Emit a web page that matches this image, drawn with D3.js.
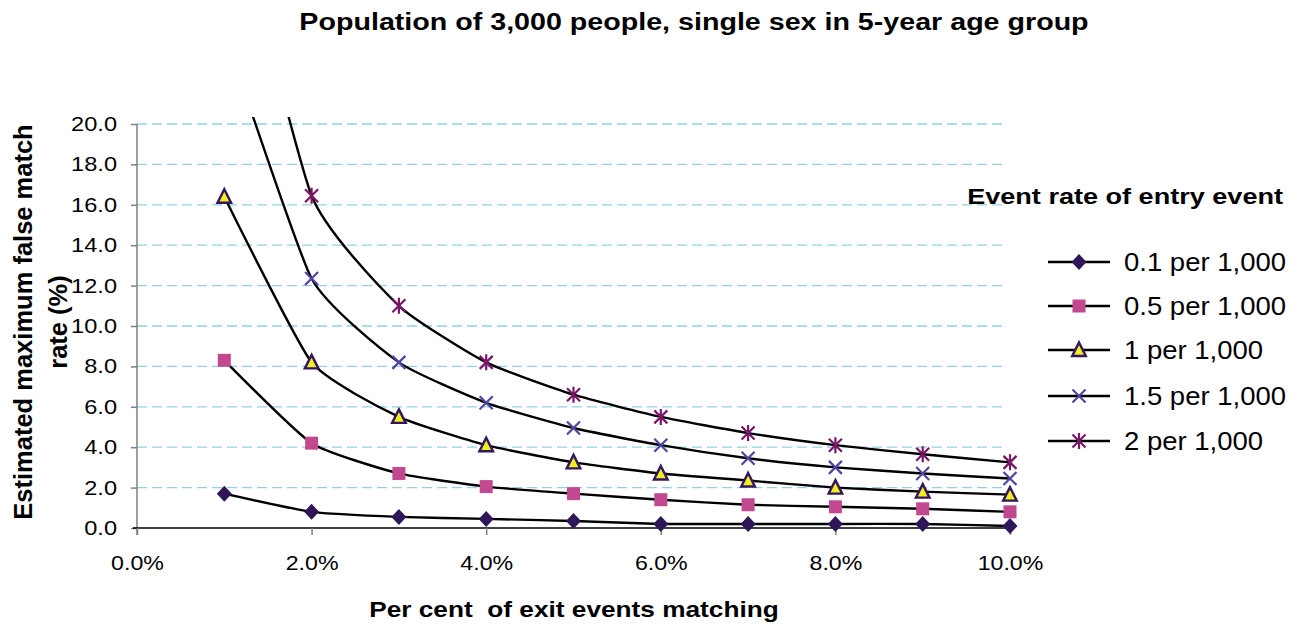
<!DOCTYPE html>
<html>
<head>
<meta charset="utf-8">
<script src="https://cdn.jsdelivr.net/npm/d3@7"></script>
<style>
  html, body { margin: 0; padding: 0; background: #fff; }
  svg { display: block; font-family: "Liberation Sans", Arial, sans-serif; }
</style>
</head>
<body>
<svg id="chart" width="1298" height="626"></svg>
<script>
// Per cent of exit events matching (x values, %)
const exitPct = [1, 2, 3, 4, 5, 6, 7, 8, 9, 10];

// Estimated maximum false match rate (%) per entry-event rate
const rate01 = [1.7, 0.8, 0.55, 0.45, 0.35, 0.2, 0.2, 0.2, 0.2, 0.1];
const rate05 = [8.3, 4.2, 2.7, 2.05, 1.7, 1.4, 1.15, 1.05, 0.95, 0.8];
const rate10 = [16.4, 8.2, 5.5, 4.1, 3.25, 2.7, 2.35, 2.0, 1.8, 1.65];
const rate15 = [24.6, 12.35, 8.2, 6.2, 4.95, 4.1, 3.45, 3.0, 2.7, 2.45];
const rate20 = [32.8, 16.45, 11.0, 8.2, 6.6, 5.5, 4.7, 4.1, 3.65, 3.25];

const seriesNames = ["0.1 per 1,000", "0.5 per 1,000", "1 per 1,000", "1.5 per 1,000", "2 per 1,000"];
const seriesValues = [rate01, rate05, rate10, rate15, rate20];

const yTicks = [0, 2, 4, 6, 8, 10, 12, 14, 16, 18, 20];
const xTicks = [0, 2, 4, 6, 8, 10];

const titleText = "Population of 3,000 people, single sex in 5-year age group";
const xTitle = "Per cent  of exit events matching";
const yTitleLines = ["Estimated maximum false match", "rate (%)"];
const legendTitle = "Event rate of entry event";

// marker styles per series
const markerStyle = [
  { shape: "diamond", fill: "#2e1658", stroke: "#2e1658" },
  { shape: "square", fill: "#c2488f", stroke: "#c2488f" },
  { shape: "triangle", fill: "#eeee22", stroke: "#33165e" },
  { shape: "cross", fill: "none", stroke: "#4e46a0" },
  { shape: "star", fill: "none", stroke: "#7a1668" }
];

const svg = d3.select("#chart");
const plotLeft = 137, plotRight = 1010, plotTop = 124, plotBottom = 528, clipTop = 117;

const x = d3.scaleLinear().domain([0, 10]).range([plotLeft, plotRight]);
const y = d3.scaleLinear().domain([0, 20]).range([plotBottom, plotTop]);

// widen horizontal text glyphs by a factor (wide Arial-style lettering)
function widen(sel, factor) {
  sel.each(function () {
    const w = this.getComputedTextLength();
    d3.select(this).attr("textLength", w * factor).attr("lengthAdjust", "spacingAndGlyphs");
  });
}

// title
svg.append("text")
  .attr("x", 694).attr("y", 30)
  .attr("text-anchor", "middle")
  .attr("font-weight", "bold").attr("font-size", 23)
  .text(titleText)
  .call(widen, 1.245);

// gridlines
svg.append("g")
  .selectAll("line")
  .data(yTicks.filter(d => d > 0))
  .join("line")
  .attr("x1", plotLeft).attr("x2", 1003)
  .attr("y1", d => y(d)).attr("y2", d => y(d))
  .attr("stroke", "#93d2e2").attr("stroke-width", 1.3)
  .attr("stroke-dasharray", "10,5");

// y axis
const yAxis = svg.append("g")
  .attr("transform", `translate(${plotLeft},0)`)
  .call(d3.axisLeft(y).tickValues(yTicks).tickFormat(d3.format(".1f")).tickSize(6).tickPadding(14));
yAxis.select(".domain").attr("stroke", "#808080").attr("stroke-width", 1.5)
  .attr("d", `M0,${plotTop}V${plotBottom + 7}`);
yAxis.selectAll(".tick line").attr("stroke", "#808080").attr("stroke-width", 1.5);
yAxis.selectAll(".tick text").attr("font-size", 20.5).attr("fill", "#000")
  .attr("font-family", "Liberation Sans, Arial, sans-serif")
  .call(widen, 1.15);

// x axis
const xAxis = svg.append("g")
  .attr("transform", `translate(0,${plotBottom})`)
  .call(d3.axisBottom(x).tickValues(xTicks).tickFormat(d => d3.format(".1f")(d) + "%").tickSize(7).tickPadding(20));
xAxis.select(".domain").attr("stroke", "#000").attr("stroke-width", 1.5)
  .attr("d", `M${plotLeft - 4},0H${plotRight}`);
xAxis.selectAll(".tick line").attr("stroke", "#808080").attr("stroke-width", 1.5);
xAxis.selectAll(".tick text").attr("font-size", 20.5).attr("fill", "#000")
  .attr("font-family", "Liberation Sans, Arial, sans-serif")
  .call(widen, 1.13);

// axis titles
svg.append("text")
  .attr("x", 574).attr("y", 617)
  .attr("text-anchor", "middle")
  .attr("font-weight", "bold").attr("font-size", 21.5)
  .attr("xml:space", "preserve").style("white-space", "pre")
  .text(xTitle)
  .call(widen, 1.22);

const yt = svg.append("text")
  .attr("transform", "translate(0,322) rotate(-90)")
  .attr("text-anchor", "middle")
  .attr("font-weight", "bold").attr("font-size", 25.5);
yt.append("tspan").attr("x", 0).attr("y", 32).text(yTitleLines[0]);
yt.append("tspan").attr("x", 0).attr("y", 67).text(yTitleLines[1]);

// clip for the lines
svg.append("defs").append("clipPath").attr("id", "plotClip")
  .append("rect").attr("x", 0).attr("y", clipTop).attr("width", 1298).attr("height", 626 - clipTop);

const line = d3.line()
  .x((d, i) => x(exitPct[i]))
  .y(d => y(d))
  .curve(d3.curveCardinal.tension(0.5));

svg.append("g").attr("clip-path", "url(#plotClip)")
  .selectAll("path")
  .data(seriesValues)
  .join("path")
  .attr("d", d => line(d))
  .attr("fill", "none").attr("stroke", "#000").attr("stroke-width", 2.4);

function drawMarker(g, style) {
  switch (style.shape) {
    case "diamond":
      g.append("path").attr("d", "M0,-8L7.5,0L0,8L-7.5,0Z").attr("fill", style.fill);
      break;
    case "square":
      g.append("rect").attr("x", -6.5).attr("y", -6.5).attr("width", 13).attr("height", 13).attr("fill", style.fill);
      break;
    case "triangle":
      g.append("path").attr("d", "M0,-7.5L6.8,6L-6.8,6Z")
        .attr("fill", style.fill).attr("stroke", style.stroke).attr("stroke-width", 2.4)
        .attr("stroke-linejoin", "miter");
      break;
    case "cross":
      g.append("path").attr("d", "M-6.5,-6.5L6.5,6.5M-6.5,6.5L6.5,-6.5")
        .attr("stroke", style.stroke).attr("stroke-width", 2.2).attr("fill", "none");
      break;
    case "star":
      g.append("path").attr("d", "M-6.5,-6.5L6.5,6.5M-6.5,6.5L6.5,-6.5M0,-8L0,8")
        .attr("stroke", style.stroke).attr("stroke-width", 2.2).attr("fill", "none");
      break;
  }
}

// markers (only inside the visible range)
seriesValues.forEach((vals, si) => {
  const g = svg.append("g");
  vals.forEach((v, i) => {
    if (v > 20.3) return;
    const m = g.append("g").attr("transform", `translate(${x(exitPct[i])},${y(v)})`);
    drawMarker(m, markerStyle[si]);
  });
});

// legend
svg.append("text")
  .attr("x", 1283).attr("y", 204)
  .attr("text-anchor", "end")
  .attr("font-weight", "bold").attr("font-size", 22)
  .text(legendTitle)
  .call(widen, 1.23);

const legendY = [262, 306, 350, 396, 441];
seriesNames.forEach((name, i) => {
  const g = svg.append("g").attr("transform", `translate(0,${legendY[i]})`);
  g.append("line").attr("x1", 1048).attr("x2", 1110).attr("y1", 0).attr("y2", 0)
    .attr("stroke", "#000").attr("stroke-width", 2.4);
  const m = g.append("g").attr("transform", "translate(1079,0)");
  drawMarker(m, markerStyle[i]);
  g.append("text").attr("x", 1124).attr("y", 9)
    .attr("font-size", 25).attr("fill", "#000")
    .text(name)
    .call(widen, 1.1);
});
</script>
</body>
</html>
